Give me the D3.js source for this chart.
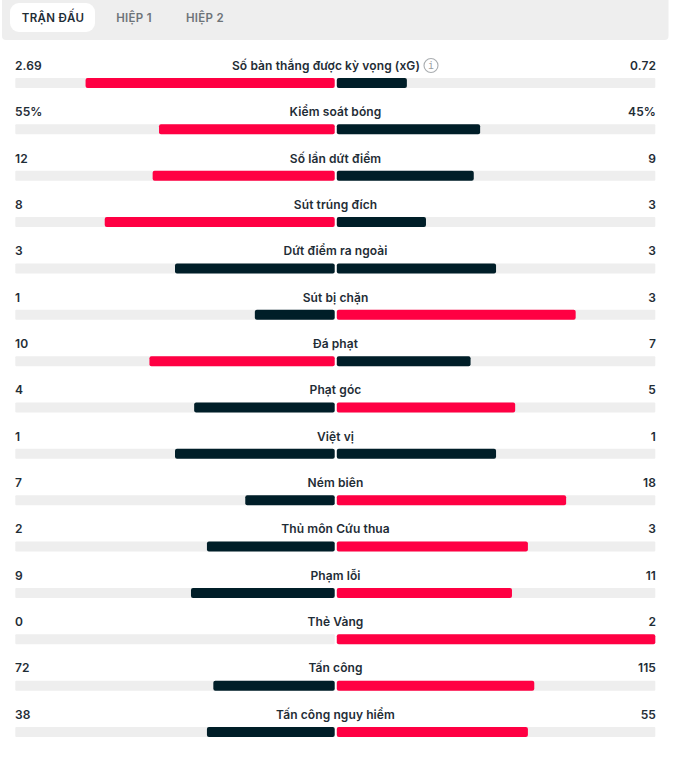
<!DOCTYPE html>
<html>
<head>
<meta charset="utf-8">
<script src="https://cdn.jsdelivr.net/npm/d3@7"></script>
<style>
  html, body { margin: 0; padding: 0; background: #fff; overflow: hidden; }
  text { font-family: Inter, "Noto Sans", sans-serif; }
</style>
</head>
<body>
<div id="canvas"></div>
<script>
const tabs = ["TRẬN ĐẤU", "HIỆP 1", "HIỆP 2"];
const categories = ["Số bàn thắng được kỳ vọng (xG)", "Kiểm soát bóng", "Số lần dứt điểm", "Sút trúng đích",
    "Dứt điểm ra ngoài", "Sút bị chặn", "Đá phạt", "Phạt góc", "Việt vị", "Ném biên",
    "Thủ môn Cứu thua", "Phạm lỗi", "Thẻ Vàng", "Tấn công", "Tấn công nguy hiểm"];
const homeValues = [2.69, 55, 12, 8, 3, 1, 10, 4, 1, 7, 2, 9, 0, 72, 38];
const awayValues = [0.72, 45, 9, 3, 3, 3, 7, 5, 1, 18, 3, 11, 2, 115, 55];
const homeLabels = ["2.69", "55%", "12", "8", "3", "1", "10", "4", "1", "7", "2", "9", "0", "72", "38"];
const awayLabels = ["0.72", "45%", "9", "3", "3", "3", "7", "5", "1", "18", "3", "11", "2", "115", "55"];

const width = 680;
const height = 763;
const red = "#ff0043";
const dark = "#001e28";
const track = "#eeeeee";
const barH = 10;

const data = categories.map((name, i) => ({
    name,
    home: homeValues[i],
    away: awayValues[i],
    homeLabel: homeLabels[i],
    awayLabel: awayLabels[i]
}));

const svg = d3.select("#canvas").append("svg")
    .attr("width", width)
    .attr("height", height)
    .style("display", "block");

// tab strip
svg.append("path")
    .attr("d", "M2,0H668.5V36a4,4 0 0 1 -4,4H6a4,4 0 0 1 -4,-4Z")
    .attr("fill", "#eeeeee");
svg.append("rect")
    .attr("x", 10).attr("y", 3)
    .attr("width", 85).attr("height", 29)
    .attr("rx", 9)
    .attr("fill", "#fff");

const tabX = [53, 134, 205];
svg.selectAll(".tab").data(tabs).enter().append("text")
    .attr("class", "tab")
    .attr("x", (d, i) => tabX[i])
    .attr("y", 22)
    .attr("text-anchor", "middle")
    .attr("font-size", 11.5)
    .attr("font-weight", 600)
    .attr("letter-spacing", "0.3px")
    .attr("fill", (d, i) => i === 0 ? "#1f2d36" : "#6d7378")
    .text(d => d);

// rows
const y = d3.scalePoint()
    .domain(categories)
    .range([78, 727]);

const left = d3.scaleLinear().domain([0, 100]).range([334.7, 15.3]);
const right = d3.scaleLinear().domain([0, 100]).range([336.8, 655.3]);

// the site floors the home percentage, away gets the rest
const homePct = d => Math.floor(100 * d.home / (d.home + d.away));
const barColor = (a, b) => a > b ? red : dark;

const rows = svg.selectAll(".row").data(data).enter().append("g")
    .attr("class", "row")
    .attr("transform", d => `translate(0,${y(d.name)})`);

rows.append("rect")
    .attr("x", left(100))
    .attr("width", left(0) - left(100))
    .attr("height", barH)
    .attr("rx", 1)
    .attr("fill", track);

rows.append("rect")
    .attr("x", right(0))
    .attr("width", right(100) - right(0))
    .attr("height", barH)
    .attr("rx", 1)
    .attr("fill", track);

rows.append("rect")
    .attr("x", d => left(homePct(d)))
    .attr("width", d => left(0) - left(homePct(d)))
    .attr("height", barH)
    .attr("rx", 2)
    .attr("fill", d => barColor(d.home, d.away));

rows.append("rect")
    .attr("x", right(0))
    .attr("width", d => right(100 - homePct(d)) - right(0))
    .attr("height", barH)
    .attr("rx", 2)
    .attr("fill", d => barColor(d.away, d.home));

const addText = (sel, x, anchor, fn) => sel.append("text")
    .attr("x", x)
    .attr("y", -8.2)
    .attr("text-anchor", anchor)
    .attr("font-size", 12)
    .attr("font-weight", 600)
    .attr("letter-spacing", "0.1px")
    .attr("fill", "#1f2d36")
    .text(fn);

addText(rows, 15, "start", d => d.homeLabel);
addText(rows, 656, "end", d => d.awayLabel);

// xG label sits left of the info icon
addText(rows, d => d.name === categories[0] ? 326 : 335.5, "middle", d => d.name);

const info = svg.append("g")
    .attr("transform", `translate(431,${y(categories[0]) - 12.5})`);
info.append("circle")
    .attr("r", 7)
    .attr("fill", "none")
    .attr("stroke", "#a9adb0")
    .attr("stroke-width", 1.1);
info.append("text")
    .attr("y", 3.5)
    .attr("text-anchor", "middle")
    .attr("font-size", 10)
    .style("font-family", "'DejaVu Sans Mono', monospace")
    .attr("fill", "#9a9ea1")
    .text("i");
</script>
</body>
</html>
